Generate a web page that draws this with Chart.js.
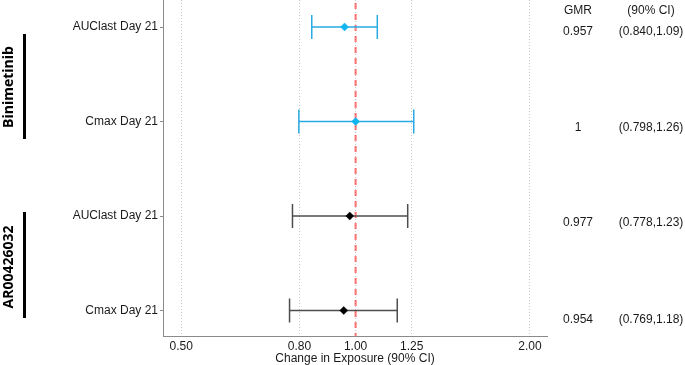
<!DOCTYPE html>
<html>
<head>
<meta charset="utf-8">
<script src="https://cdn.jsdelivr.net/npm/chart.js@4/dist/chart.umd.min.js"></script>
<style>
  html, body { margin: 0; padding: 0; background: #ffffff; }
  #wrap { width: 685px; height: 365px; position: relative; }
</style>
</head>
<body>
<div id="wrap"><canvas id="c" width="685" height="365"></canvas></div>
<script>
// ---- data ----
const categories = ['AUClast Day 21', 'Cmax Day 21', 'AUClast Day 21', 'Cmax Day 21'];
const groups = ['Binimetinib', 'AR00426032'];
const gmr = [0.957, 1, 0.977, 0.954];
const lower = [0.840, 0.798, 0.778, 0.769];
const upper = [1.09, 1.26, 1.23, 1.18];
const gmrText = ['0.957', '1', '0.977', '0.954'];
const ciText = ['(0.840,1.09)', '(0.798,1.26)', '(0.778,1.23)', '(0.769,1.18)'];
const xTicks = [0.5, 0.8, 1.0, 1.25, 2.0];
const referenceValue = 1;

// ---- styles ----
const lineColors = ['#29aae2', '#29aae2', '#4d4d4d', '#4d4d4d'];
const pointColors = ['#12b5f0', '#12b5f0', '#000000', '#000000'];
const FONT = '"Liberation Sans", Arial, sans-serif';

const ciDatasets = categories.map((c, i) => ({
  type: 'line',
  data: [{ x: lower[i], y: i + 1 }, { x: upper[i], y: i + 1 }],
  borderColor: lineColors[i],
  borderWidth: 1.3,
  pointStyle: 'line',
  pointRotation: 90,
  pointRadius: 12,
  pointBorderColor: lineColors[i],
  pointBorderWidth: 1.5,
  pointHoverRadius: 12,
  order: 2
}));

const pointDataset = {
  type: 'scatter',
  data: gmr.map((v, i) => ({ x: v, y: i + 1 })),
  pointStyle: 'rectRot',
  pointRadius: 4,
  pointBackgroundColor: pointColors,
  pointBorderColor: pointColors,
  pointBorderWidth: 0.5,
  order: 1
};

const refLinePlugin = {
  id: 'refLine',
  beforeDatasetsDraw(chart) {
    const { ctx, chartArea, scales } = chart;
    const x = scales.x.getPixelForValue(referenceValue);
    ctx.save();
    ctx.strokeStyle = 'rgba(255,0,0,0.5)';
    ctx.lineWidth = 2.2;
    ctx.setLineDash([6, 5]);
    ctx.lineDashOffset = 8;
    ctx.beginPath();
    ctx.moveTo(x, chartArea.top);
    ctx.lineTo(x, chartArea.bottom);
    ctx.stroke();
    ctx.restore();
  }
};

// annotation layout (canvas pixels)
const groupLabelCenters = [87, 267];
const groupBars = [[34, 139], [212, 318]];
const tableHeaderY = 11;
const tableRowY = [32, 128, 223, 320];
const gmrColX = 578;
const ciColX = 651;

const annotPlugin = {
  id: 'annot',
  afterDraw(chart) {
    const { ctx } = chart;
    ctx.save();
    groups.forEach((g, k) => {
      ctx.save();
      ctx.translate(9, groupLabelCenters[k]);
      ctx.rotate(-Math.PI / 2);
      ctx.font = 'bold 14px "Open Sans", ' + FONT;
      ctx.fillStyle = '#000000';
      ctx.textAlign = 'center';
      ctx.textBaseline = 'middle';
      ctx.fillText(g, 0, 0);
      ctx.restore();
      ctx.fillStyle = '#000000';
      ctx.fillRect(23, groupBars[k][0], 3, groupBars[k][1] - groupBars[k][0]);
    });
    ctx.font = '12px ' + FONT;
    ctx.fillStyle = '#1a1a1a';
    ctx.textAlign = 'center';
    ctx.textBaseline = 'middle';
    ctx.fillText('GMR', gmrColX, tableHeaderY);
    ctx.fillText('(90% CI)', ciColX, tableHeaderY);
    gmrText.forEach((t, i) => {
      ctx.fillText(t, gmrColX, tableRowY[i]);
      ctx.fillText(ciText[i], ciColX, tableRowY[i]);
    });
    ctx.restore();
  }
};

new Chart(document.getElementById('c'), {
  data: { datasets: [...ciDatasets, pointDataset] },
  options: {
    responsive: false,
    devicePixelRatio: 1,
    animation: false,
    events: [],
    layout: { autoPadding: false, padding: { top: 0, right: 138, bottom: 0, left: 0 } },
    plugins: { legend: { display: false }, tooltip: { enabled: false }, title: { display: false } },
    scales: {
      x: {
        type: 'logarithmic',
        min: 0.465,
        max: 2.14,
        afterBuildTicks(s) { s.ticks = xTicks.map(v => ({ value: v })); },
        afterFit(s) { s.height = 29; s.paddingLeft = 0; s.paddingRight = 0; },
        ticks: {
          callback: v => Number(v).toFixed(2),
          font: { family: FONT, size: 12 },
          color: '#1a1a1a',
          padding: 3,
          maxRotation: 0,
          autoSkip: false
        },
        grid: { color: '#c8c8c8', lineWidth: 1, drawTicks: false },
        border: { color: '#8a8a8a', width: 1, dash: [1, 2] },
        title: {
          display: true,
          text: 'Change in Exposure (90% CI)',
          font: { family: FONT, size: 12, lineHeight: 1 },
          color: '#1a1a1a',
          padding: { top: 0, bottom: 0 }
        }
      },
      y: {
        type: 'linear',
        reverse: true,
        min: 0.714,
        max: 4.27,
        afterBuildTicks(s) { s.ticks = categories.map((c, i) => ({ value: i + 1 })); },
        afterFit(s) { s.width = 163; s.paddingTop = 0; s.paddingBottom = 0; },
        ticks: {
          callback: v => categories[Math.round(v) - 1],
          font: { family: FONT, size: 12 },
          color: '#1a1a1a',
          padding: 2,
          autoSkip: false
        },
        grid: { drawOnChartArea: false, drawTicks: true, tickLength: 3, tickColor: '#8a8a8a' },
        border: { color: '#8a8a8a', width: 1 }
      }
    }
  },
  plugins: [refLinePlugin, annotPlugin]
});
</script>
</body>
</html>
